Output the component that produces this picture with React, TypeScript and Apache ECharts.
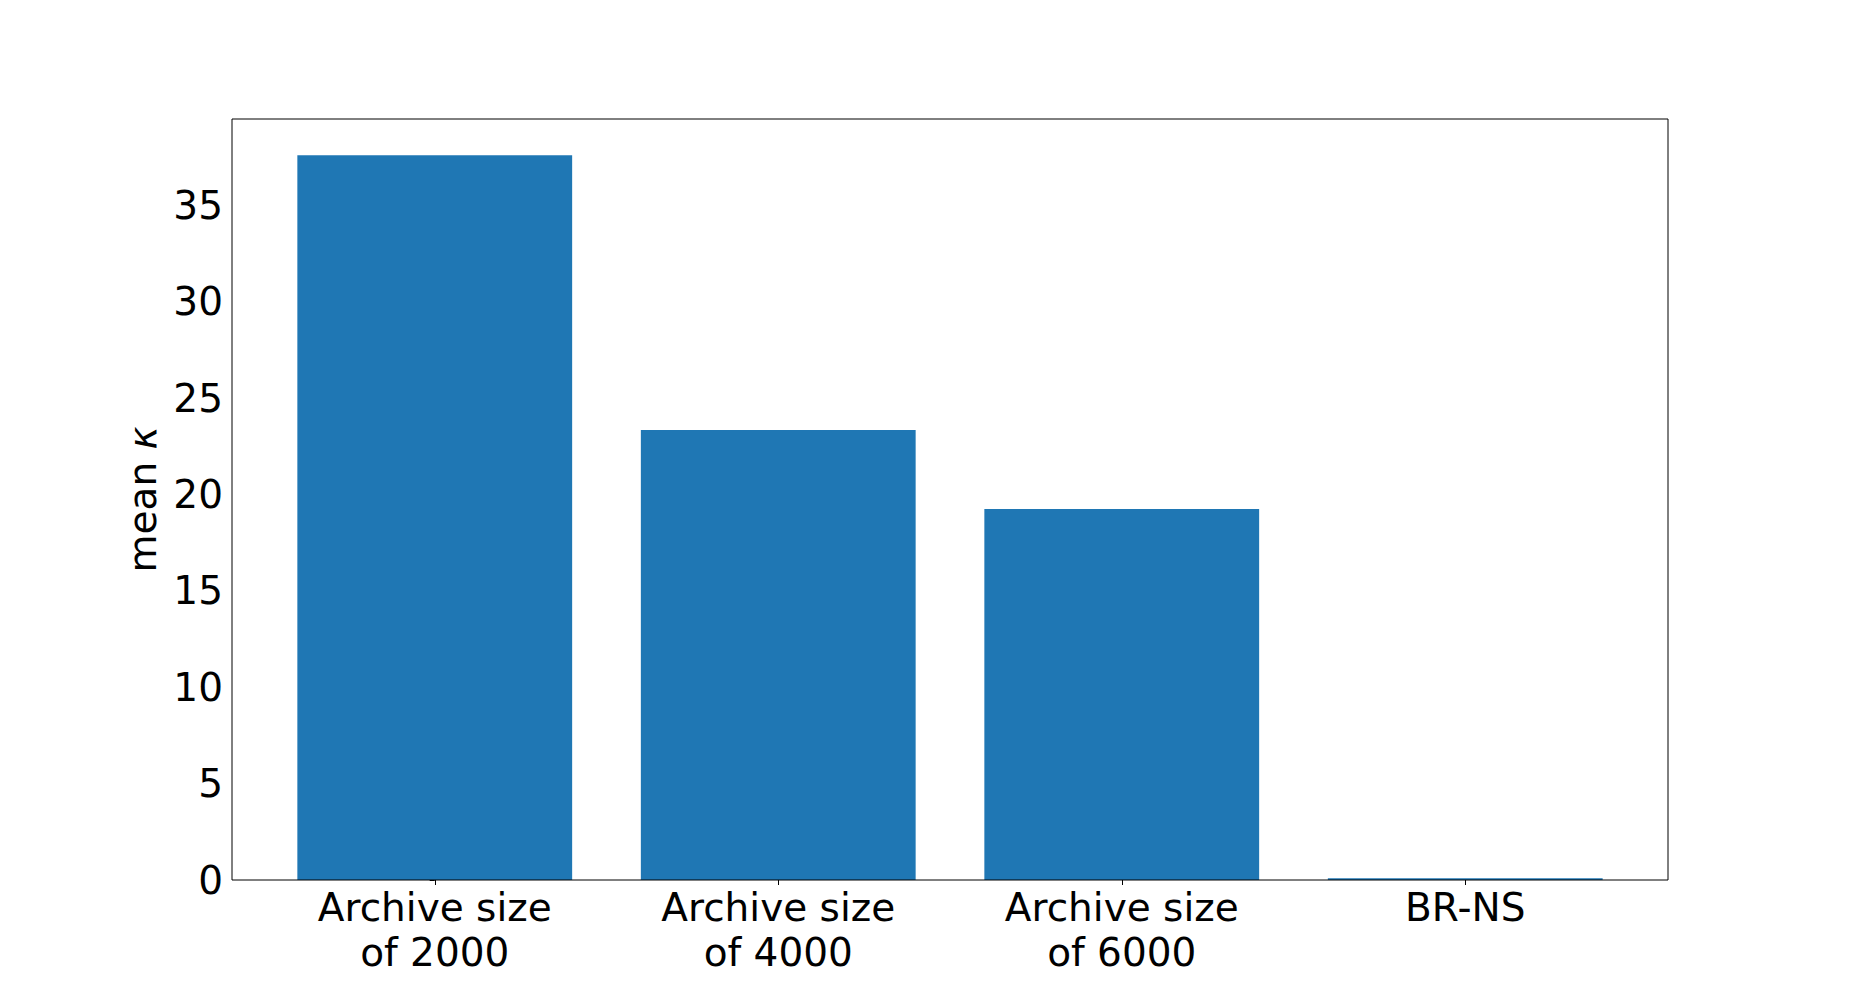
import React, { useEffect, useRef } from "react";
import * as echarts from "echarts";

const categories: string[] = ["Archive size\nof 2000", "Archive size\nof 4000", "Archive size\nof 6000", "BR-NS"];
const meanKappa: number[] = [37.6, 23.35, 19.25, 0.09];
const yTicks: number[] = [0, 5, 10, 15, 20, 25, 30, 35];

const FONT = "DejaVu Sans";
const FS = 39;

export default function App() {
  const ref = useRef<HTMLDivElement>(null);

  useEffect(() => {
    if (!ref.current) return;
    const chart = echarts.init(ref.current, undefined, { renderer: "svg" });
    const yMax = Math.max(...meanKappa) * 1.05;
    chart.setOption({
      animation: false,
      backgroundColor: "#ffffff",
      grid: [
        { left: 232, top: 119, right: 185, bottom: 109, show: true, borderColor: "#000000", borderWidth: 1, backgroundColor: "transparent", z: 5 },
        { left: 263, top: 119, right: 216, bottom: 109 },
      ],
      xAxis: [
        { type: "value", gridIndex: 0, min: -0.59, max: 3.59, show: false },
        {
          type: "category",
          gridIndex: 1,
          data: categories,
          axisLine: { show: false },
          axisTick: { show: true, alignWithLabel: true, length: 5, lineStyle: { color: "#000", width: 1 } },
          axisLabel: { color: "#000", fontFamily: FONT, fontSize: FS, lineHeight: 45, margin: 5, interval: 0 },
          splitLine: { show: false },
        },
      ],
      yAxis: [
        {
          type: "value",
          gridIndex: 0,
          min: 0,
          max: yMax,
          interval: 5,
          axisLine: { show: false },
          axisTick: { show: true, length: 5, lineStyle: { color: "#000", width: 1 } },
          axisLabel: {
            color: "#000",
            fontFamily: FONT,
            fontSize: FS,
            margin: 9,
            showMaxLabel: false,
            formatter: (v: number) => (yTicks.includes(v) ? String(v) : ""),
          },
          splitLine: { show: false },
          name: "{a|mean }{b|κ}",
          nameLocation: "middle",
          nameGap: 60,
          nameTextStyle: {
            color: "#000",
            fontFamily: FONT,
            fontSize: FS,
            rich: {
              a: { fontFamily: FONT, fontSize: FS, color: "#000" },
              b: { fontFamily: FONT, fontSize: FS, color: "#000", fontStyle: "italic" },
            },
          },
        },
        { type: "value", gridIndex: 1, min: 0, max: yMax, show: false },
      ],
      series: [
        {
          type: "bar",
          xAxisIndex: 1,
          yAxisIndex: 1,
          data: meanKappa,
          barWidth: "80%",
          itemStyle: { color: "#1f77b4" },
        },
      ],
    });
    return () => chart.dispose();
  }, []);

  return <div ref={ref} style={{ position: "fixed", left: 0, top: 0, width: 1853, height: 989 }} />;
}
